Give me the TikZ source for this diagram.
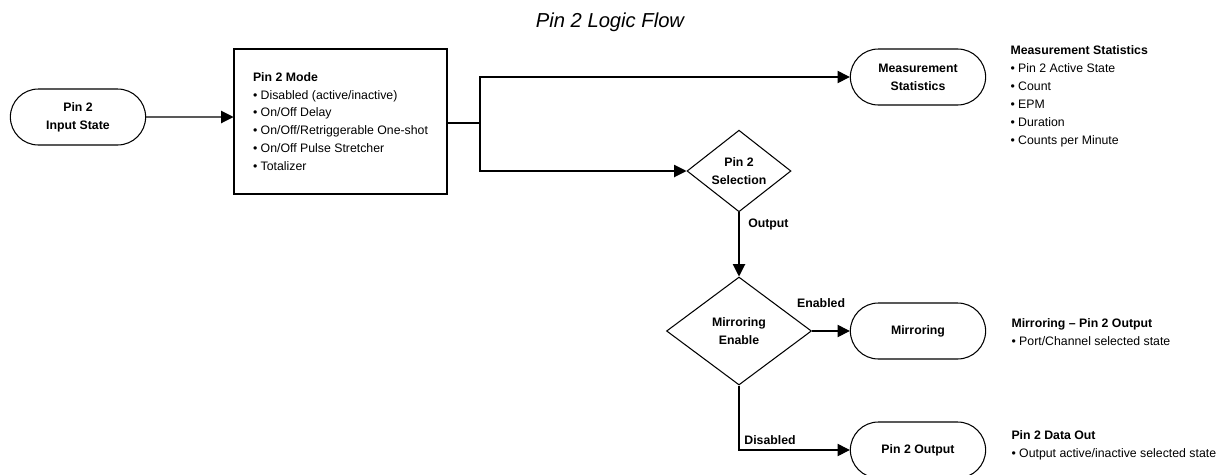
\documentclass[tikz,border=0pt]{standalone}
\usepackage{fontspec}
\setmainfont{Liberation Sans}
\usetikzlibrary{shapes.geometric,shapes.misc,arrows.meta}
\tikzset{
	lbl/.style={font=\fontsize{7}{10.2}\selectfont\bfseries,inner sep=1pt}
}

\begin{document}
\begin{tikzpicture}[x=0.02cm,y=-0.02cm,line width=0.6pt,>={Triangle[length=7pt,width=7pt]},
		font=\fontsize{7}{10.2}\selectfont]
			\useasboundingbox (0,0) rectangle (1228,474);
			\node[font=\fontsize{11.5}{14}\selectfont\itshape] (title) at (610,22) {Pin 2 Logic Flow};
			\begin{scope}[every node/.style={rounded rectangle,draw,minimum width=2.94cm,minimum height=1.12cm,align=center,font=\fontsize{7}{10.2}\selectfont\bfseries}]
				\node (in) at (78,117) {Pin 2\\Input State};
				\node (stats) at (918,77) {Measurement\\Statistics};
				\node (mirror) at (918,331) {Mirroring};
				\node (pout) at (918,450) {Pin 2 Output};
			\end{scope}
			\begin{scope}[every node/.style={diamond,draw,inner sep=0pt,align=center,font=\fontsize{7}{10.2}\selectfont\bfseries}]
				\node[minimum width=2.08cm,minimum height=1.54cm] (sel) at (739,171) {Pin 2\\Selection};
				\node[minimum width=2.9cm,minimum height=2.16cm] (mren) at (739,331) {Mirroring\\Enable};
			\end{scope}
			\node[draw,rectangle,minimum width=4.26cm,minimum height=2.9cm,align=left] (mode) at (340.5,121.5)
				{\textbf{Pin 2 Mode}\\• Disabled (active/inactive)\\• On/Off Delay\\• On/Off/Retriggerable One-shot\\• On/Off Pulse Stretcher\\• Totalizer};
			\begin{scope}[every node/.style={anchor=north west,inner sep=0pt,align=left}]
				\node (statsinfo) at (1010,45) {\textbf{Measurement Statistics}\\• Pin 2 Active State\\• Count\\• EPM\\• Duration\\• Counts per Minute};
				\node (mirrorinfo) at (1011,318) {\textbf{Mirroring – Pin 2 Output}\\• Port/Channel selected state};
				\node (poutinfo) at (1011,430) {\textbf{Pin 2 Data Out}\\• Output active/inactive selected state};
			\end{scope}
			\coordinate (split) at (480,123);
			\draw[->] (in) -- (in -| mode.west);
			\draw (mode.east |- split) -- (split);
			\draw[->] (split) |- (stats);
			\draw[->] (split) |- (sel);
			\path [->] (sel) edge node[lbl,anchor=west,pos=0.19,xshift=0.14cm] {Output} (mren);
			\path [->] (mren) edge node[lbl,anchor=south,pos=0.24,yshift=0.42cm] {Enabled} (mirror);
			\draw[->] (mren) |- node[lbl,anchor=south,pos=0.64,yshift=0.06cm] {Disabled} (pout);
		\end{tikzpicture}
\end{document}
